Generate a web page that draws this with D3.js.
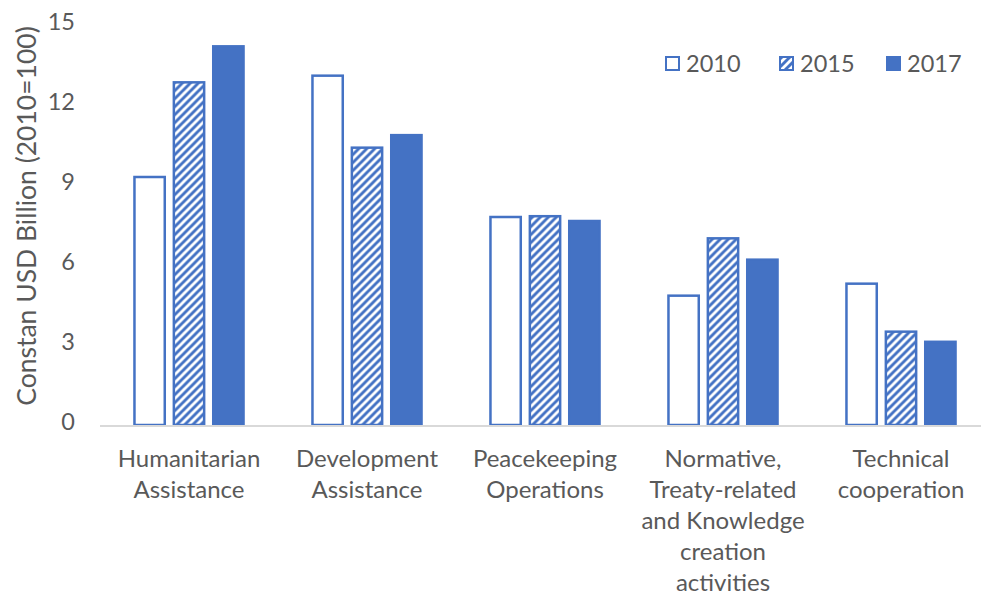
<!DOCTYPE html>
<html>
<head>
<meta charset="utf-8">
<script src="https://cdnjs.cloudflare.com/ajax/libs/d3/7.8.5/d3.min.js"></script>
<style>
    body { margin: 0; background: #fff; }
    text { font-family: Lato, "Open Sans", sans-serif; fill: #595959; }
</style>
</head>
<body>
<script>
// grouped bar chart, three years per category

const categories = [
    ["Humanitarian", "Assistance"],
    ["Development", "Assistance"],
    ["Peacekeeping", "Operations"],
    ["Normative,", "Treaty-related", "and Knowledge", "creation", "activities"],
    ["Technical", "cooperation"]
]
const years = ["2010", "2015", "2017"]
const values2010 = [9.3, 13.1, 7.8, 4.85, 5.3]
const values2015 = [12.85, 10.4, 7.83, 7.0, 3.5]
const values2017 = [14.2, 10.87, 7.65, 6.2, 3.12]
const yTicks = [0, 3, 6, 9, 12, 15]

"use strict";
(function () {
const m = {
    width: 981,
    height: 599,
    left: 100,
    right: 990,
    top: 25,
    bottom: 425
}
const blue = '#4472C4'

const svg = d3.select("body").append('svg')
    .attr('width', m.width)
    .attr('height', m.height)

// hatch for 2015
const defs = svg.append('defs')
const pat = defs.append('pattern')
    .attr('id', 'hatch')
    .attr('patternUnits', 'userSpaceOnUse')
    .attr('width', 8)
    .attr('height', 8)
pat.append('rect')
    .attr('width', 8)
    .attr('height', 8)
    .attr('fill', blue)
pat.append('path')
    .attr('d', 'M0,8 L8,0 M-4,4 L4,-4 M4,12 L12,4')
    .attr('stroke', '#fff')
    .attr('stroke-width', 2.8)

const fills = ['#fff', 'url(#hatch)', blue]

const keys = categories.map(function (c) { return c.join(' ') })
const rows = keys.map(function (k, i) {
    return { key: k, vals: [values2010[i], values2015[i], values2017[i]] }
})

const x = d3.scaleBand()
    .domain(keys)
    .range([m.left, m.right])
    .paddingInner(0.376)
    .paddingOuter(0.188)

const xInner = d3.scaleBand()
    .domain(years)
    .range([0, x.bandwidth()])
    .paddingInner(0.18)

const y = d3.scaleLinear()
    .domain([0, 15])
    .range([m.bottom, m.top])

// y axis, labels only
const yAxis = svg.append('g')
    .attr('transform', 'translate(' + m.left + ',0)')
    .call(d3.axisLeft(y).tickValues(yTicks).tickSize(0).tickPadding(25))
yAxis.select('.domain').remove()
yAxis.selectAll('text')
    .attr('font-size', 23.5)
    .attr('dy', '0.2em')
    .style('font-family', 'Lato, sans-serif')
    .attr('fill', '#595959')

svg.append('text')
    .attr('transform', 'translate(36,216) rotate(-90)')
    .attr('text-anchor', 'middle')
    .attr('font-size', 26.5)
    .text('Constan USD Billion (2010=100)')

// bars
const groups = svg.selectAll('.grp')
    .data(rows)
    .enter()
    .append('g')
    .attr('class', 'grp')
    .attr('transform', function (d) { return 'translate(' + x(d.key) + ',0)' })

groups.selectAll('rect')
    .data(function (d) { return d.vals.map(function (v, j) { return { year: years[j], v: v, j: j } }) })
    .enter()
    .append('rect')
    .attr('x', function (d) { return xInner(d.year) + 1 })
    .attr('y', function (d) { return y(d.v) })
    .attr('width', xInner.bandwidth() - 2)
    .attr('height', function (d) { return y(0) - y(d.v) })
    .attr('fill', function (d) { return fills[d.j] })
    .attr('stroke', blue)
    .attr('stroke-width', 2.5)

// x axis line
svg.append('line')
    .attr('x1', m.left)
    .attr('x2', m.right)
    .attr('y1', y(0) + 1)
    .attr('y2', y(0) + 1)
    .attr('stroke', '#d9d9d9')
    .attr('stroke-width', 2)

// category labels
const lab = svg.selectAll('.cat')
    .data(categories)
    .enter()
    .append('text')
    .attr('class', 'cat')
    .attr('text-anchor', 'middle')
    .attr('font-size', 24)
    .attr('x', function (d, i) { return x(keys[i]) + x.bandwidth() / 2 })
    .attr('y', 467)
lab.selectAll('tspan')
    .data(function (d) { return d })
    .enter()
    .append('tspan')
    .attr('x', function () { return d3.select(this.parentNode).attr('x') })
    .attr('dy', function (d, i) { return i === 0 ? 0 : 31 })
    .text(function (d) { return d })

// legend
const legX = [665, 779, 886]
const leg = svg.selectAll('.leg')
    .data(years)
    .enter()
    .append('g')
    .attr('class', 'leg')
    .attr('transform', function (d, i) { return 'translate(' + legX[i] + ',56)' })
leg.append('rect')
    .attr('x', 1)
    .attr('y', 1)
    .attr('width', 13)
    .attr('height', 13)
    .attr('fill', function (d, i) { return fills[i] })
    .attr('stroke', blue)
    .attr('stroke-width', 2)
leg.append('text')
    .attr('x', 21)
    .attr('y', 16)
    .attr('font-size', 23.5)
    .text(function (d) { return d })
})();
</script>
</body>
</html>
